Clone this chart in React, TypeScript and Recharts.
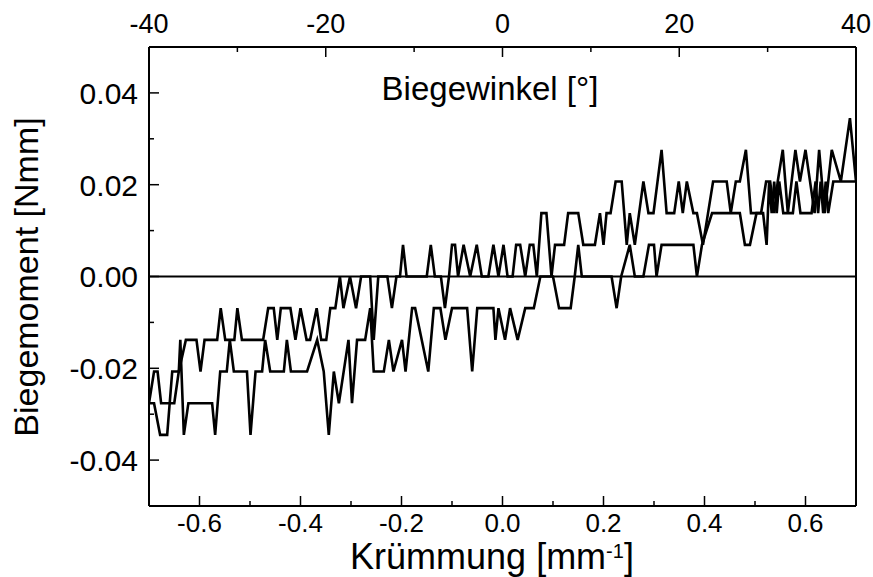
import React from 'react';
import { LineChart, Line, XAxis, YAxis, ReferenceLine } from 'recharts';

// Curvature [1/mm] and bending moment [Nmm] of the two branches of the loop
const upperCurvature = [
  -0.7, -0.69, -0.683, -0.676, -0.65, -0.641, -0.627, -0.606, -0.598, -0.59, -0.565, -0.558, -0.549, -0.531,
  -0.525, -0.516, -0.474, -0.464, -0.453, -0.446, -0.439, -0.42, -0.41, -0.4, -0.388, -0.381, -0.368, -0.359,
  -0.349, -0.341, -0.331, -0.322, -0.315, -0.302, -0.29, -0.28, -0.262, -0.255, -0.246, -0.228, -0.219, -0.21,
  -0.203, -0.197, -0.19, -0.15, -0.142, -0.134, -0.122, -0.114, -0.106, -0.1, -0.094, -0.088, -0.077, -0.064,
  -0.051, -0.041, -0.028, -0.018, -0.008, 0.002, 0.01, 0.02, 0.027, 0.035, 0.045, 0.054, 0.061, 0.068, 0.077,
  0.087, 0.097, 0.104, 0.122, 0.13, 0.15, 0.16, 0.183, 0.193, 0.2, 0.206, 0.214, 0.224, 0.236, 0.246, 0.252,
  0.262, 0.279, 0.289, 0.299, 0.315, 0.325, 0.34, 0.349, 0.357, 0.365, 0.378, 0.385, 0.397, 0.407, 0.417,
  0.444, 0.452, 0.462, 0.47, 0.482, 0.492, 0.512, 0.522, 0.53, 0.538, 0.545, 0.555, 0.565, 0.58, 0.589, 0.6,
  0.618, 0.627, 0.638, 0.652, 0.67, 0.688, 0.7,
];
const upperMoment = [
  -0.0276, -0.0207, -0.0207, -0.0276, -0.0276, -0.0207, -0.0138, -0.0138, -0.0207, -0.0138, -0.0138, -0.0069, -0.0138, -0.0138,
  -0.0069, -0.0138, -0.0138, -0.0069, -0.0069, -0.0138, -0.0069, -0.0069, -0.0138, -0.0069, -0.0138, -0.0138, -0.0069, -0.0138,
  -0.0138, -0.0069, -0.0069, 0, -0.0069, 0, -0.0069, 0, 0, -0.0138, 0, 0, -0.0069, 0,
  0, 0.0069, 0, 0, 0.0069, 0, 0, -0.0069, 0, 0.0069, 0.0069, 0, 0.0069, 0,
  0.0069, 0, 0, 0.0069, 0, 0.0069, 0, 0, 0.0069, 0.0069, 0, 0.0069, 0.0069, 0, 0.0138,
  0.0138, 0, 0.0069, 0.0069, 0.0138, 0.0138, 0.0069, 0.0069, 0.0138, 0.0069, 0.0138, 0.0138, 0.0207, 0.0207, 0.0069, 0.0138,
  0.0069, 0.0207, 0.0138, 0.0138, 0.0276, 0.0138, 0.0138, 0.0207, 0.0138, 0.0207, 0.0138, 0.0138, 0.0069, 0.0138, 0.0207,
  0.0207, 0.0138, 0.0207, 0.0207, 0.0276, 0.0138, 0.0138, 0.0207, 0.0207, 0.0138, 0.0207, 0.0276, 0.0138, 0.0276, 0.0207, 0.0276,
  0.0138, 0.0276, 0.0138, 0.0276, 0.0207, 0.0345, 0.0207,
];
const lowerCurvature = [
  -0.7, -0.69, -0.678, -0.664, -0.654, -0.641, -0.638, -0.631, -0.622, -0.575, -0.569, -0.559, -0.546, -0.54,
  -0.532, -0.506, -0.499, -0.489, -0.476, -0.47, -0.46, -0.433, -0.427, -0.419, -0.387, -0.367, -0.354, -0.344,
  -0.334, -0.324, -0.305, -0.298, -0.288, -0.272, -0.262, -0.255, -0.235, -0.225, -0.216, -0.199, -0.192, -0.179,
  -0.173, -0.16, -0.147, -0.136, -0.123, -0.113, -0.1, -0.07, -0.06, -0.05, -0.018, -0.014, -0.008, 0.005,
  0.015, 0.03, 0.045, 0.062, 0.075, 0.1, 0.112, 0.135, 0.143, 0.15, 0.157, 0.216, 0.226, 0.235, 0.252, 0.262,
  0.279, 0.29, 0.3, 0.305, 0.315, 0.378, 0.385, 0.395, 0.415, 0.47, 0.48, 0.49, 0.503, 0.516, 0.523, 0.528,
  0.533, 0.538, 0.543, 0.548, 0.556, 0.575, 0.582, 0.59, 0.612, 0.62, 0.625, 0.63, 0.635, 0.64, 0.645, 0.655, 0.7,
];
const lowerMoment = [
  -0.0276, -0.0276, -0.0345, -0.0345, -0.0207, -0.0207, -0.0138, -0.0345, -0.0276, -0.0276, -0.0345, -0.0207, -0.0207, -0.0138,
  -0.0207, -0.0207, -0.0345, -0.0207, -0.0207, -0.0138, -0.0207, -0.0207, -0.0138, -0.0207, -0.0207, -0.0138, -0.0207, -0.0345,
  -0.0207, -0.0276, -0.0138, -0.0276, -0.0138, -0.0138, -0.0069, -0.0207, -0.0207, -0.0138, -0.0207, -0.0138, -0.0207, -0.0069,
  -0.0069, -0.0138, -0.0207, -0.0069, -0.0069, -0.0138, -0.0069, -0.0069, -0.0207, -0.0069, -0.0069, -0.0138, -0.0069, -0.0138,
  -0.0069, -0.0138, -0.0069, -0.0069, 0, 0, -0.0069, -0.0069, 0, 0.0069, 0, 0, -0.0069, 0, 0.0069, 0,
  0, 0.0069, 0.0069, 0, 0.0069, 0.0069, 0, 0.0069, 0.0138, 0.0138, 0.0069, 0.0069, 0.0138, 0.0138, 0.0069, 0.0207,
  0.0138, 0.0207, 0.0138, 0.0207, 0.0138, 0.0138, 0.0207, 0.0138, 0.0138, 0.0207, 0.0138, 0.0207, 0.0138, 0.0207, 0.0138, 0.0207, 0.0207,
];

const curvatureTicks = [-0.6, -0.5, -0.4, -0.3, -0.2, -0.1, 0, 0.1, 0.2, 0.3, 0.4, 0.5, 0.6];
const curvatureLabels = [-0.6, -0.4, -0.2, 0, 0.2, 0.4, 0.6];
const momentTicks = [-0.04, -0.03, -0.02, -0.01, 0, 0.01, 0.02, 0.03, 0.04];
const momentLabels = [-0.04, -0.02, 0, 0.02, 0.04];
// Bending angle [°] on the top axis; -40° .. 40° spans the same width as -0.7 .. 0.7 mm^-1
const angleTicks = [-40, -30, -20, -10, 0, 10, 20, 30, 40];
const angleLabels = [-40, -20, 0, 20, 40];
const ANGLE_MAX = 40;
const CURV_MAX = 0.7;
const angleTickPositions = angleTicks.map((a) => (a / ANGLE_MAX) * CURV_MAX);

const upperData = upperCurvature.map((x, i) => ({ x, y: upperMoment[i] }));
const lowerData = lowerCurvature.map((x, i) => ({ x, y: lowerMoment[i] }));

const FONT = '"Liberation Sans", Arial, Helvetica, sans-serif';
const MAJOR = 10;
const MINOR = 5;

const BottomTick = (props: any) => {
  const { x, y, payload } = props;
  const v = payload.value;
  const major = curvatureLabels.includes(v);
  const axisY = y - 8;
  return (
    <g>
      <line x1={x} x2={x} y1={axisY} y2={axisY - (major ? MAJOR : MINOR)} stroke="#000" strokeWidth={1.5} />
      {major && (
        <text x={x} y={y} dy="0.71em" textAnchor="middle" fontSize={26} fontFamily={FONT} fill="#000">
          {v.toFixed(1)}
        </text>
      )}
    </g>
  );
};

const TopTick = (props: any) => {
  const { x, y, payload } = props;
  const angle = Math.round((payload.value / CURV_MAX) * ANGLE_MAX);
  const major = angleLabels.includes(angle);
  const axisY = y + 14;
  return (
    <g>
      <line x1={x} x2={x} y1={axisY} y2={axisY + (major ? MAJOR : MINOR)} stroke="#000" strokeWidth={1.5} />
      {major && (
        <text x={x} y={y} textAnchor="middle" fontSize={27} fontFamily={FONT} fill="#000">
          {String(angle)}
        </text>
      )}
    </g>
  );
};

const LeftTick = (props: any) => {
  const { x, y, payload } = props;
  const v = payload.value;
  const major = momentLabels.includes(v);
  const axisX = x + 11;
  return (
    <g>
      <line x1={axisX} x2={axisX + (major ? MAJOR : MINOR)} y1={y} y2={y} stroke="#000" strokeWidth={1.5} />
      {major && (
        <text x={x} y={y} dy="0.36em" textAnchor="end" fontSize={30} fontFamily={FONT} fill="#000">
          {v.toFixed(2)}
        </text>
      )}
    </g>
  );
};

export default function App() {
  const axisLine = { stroke: '#000', strokeWidth: 2 };
  return (
    <div style={{ position: 'absolute', left: 0, top: 0, width: 873, height: 577, background: '#fff' }}>
      <LineChart width={873} height={577} margin={{ top: 0, right: 0, bottom: 0, left: 0 }}>
        <XAxis
          xAxisId="k"
          type="number"
          dataKey="x"
          orientation="bottom"
          domain={[-CURV_MAX, CURV_MAX]}
          allowDataOverflow
          ticks={curvatureTicks}
          interval={0}
          tickSize={0}
          tickMargin={8}
          tickLine={false}
          axisLine={axisLine}
          tick={<BottomTick />}
          height={71}
        />
        <XAxis
          xAxisId="t"
          type="number"
          dataKey="x"
          orientation="top"
          domain={[-CURV_MAX, CURV_MAX]}
          allowDataOverflow
          ticks={angleTickPositions}
          interval={0}
          tickSize={0}
          tickMargin={14}
          tickLine={false}
          axisLine={axisLine}
          tick={<TopTick />}
          height={47}
        />
        <YAxis
          yAxisId="m"
          type="number"
          orientation="left"
          domain={[-0.05, 0.05]}
          allowDataOverflow
          ticks={momentTicks}
          interval={0}
          tickSize={0}
          tickMargin={11}
          tickLine={false}
          axisLine={axisLine}
          tick={<LeftTick />}
          width={149}
        />
        <YAxis
          yAxisId="r"
          type="number"
          orientation="right"
          domain={[-0.05, 0.05]}
          allowDataOverflow
          tick={false}
          tickLine={false}
          axisLine={axisLine}
          width={17}
        />
        <ReferenceLine xAxisId="k" yAxisId="m" y={0} stroke="#000" strokeWidth={2} />
        <Line
          xAxisId="k"
          yAxisId="m"
          data={upperData}
          dataKey="y"
          type="linear"
          stroke="#000"
          strokeWidth={2.6}
          dot={false}
          isAnimationActive={false}
        />
        <Line
          xAxisId="t"
          yAxisId="m"
          data={lowerData}
          dataKey="y"
          type="linear"
          stroke="#000"
          strokeWidth={2.6}
          dot={false}
          isAnimationActive={false}
        />
      </LineChart>
      <svg
        width={873}
        height={577}
        style={{ position: 'absolute', left: 0, top: 0, pointerEvents: 'none' }}
        fontFamily={FONT}
      >
        <text x={490} y={100} textAnchor="middle" fontSize={33} fill="#000">
          Biegewinkel [°]
        </text>
        <text x={0} y={0} transform="translate(38,277) rotate(-90)" textAnchor="middle" fontSize={34} fill="#000">
          Biegemoment [Nmm]
        </text>
        <text x={492} y={569} textAnchor="middle" fontSize={36} fill="#000">
          Krümmung [mm<tspan dy={-11} fontSize={20}>-1</tspan>
          <tspan dy={11}>]</tspan>
        </text>
      </svg>
    </div>
  );
}
